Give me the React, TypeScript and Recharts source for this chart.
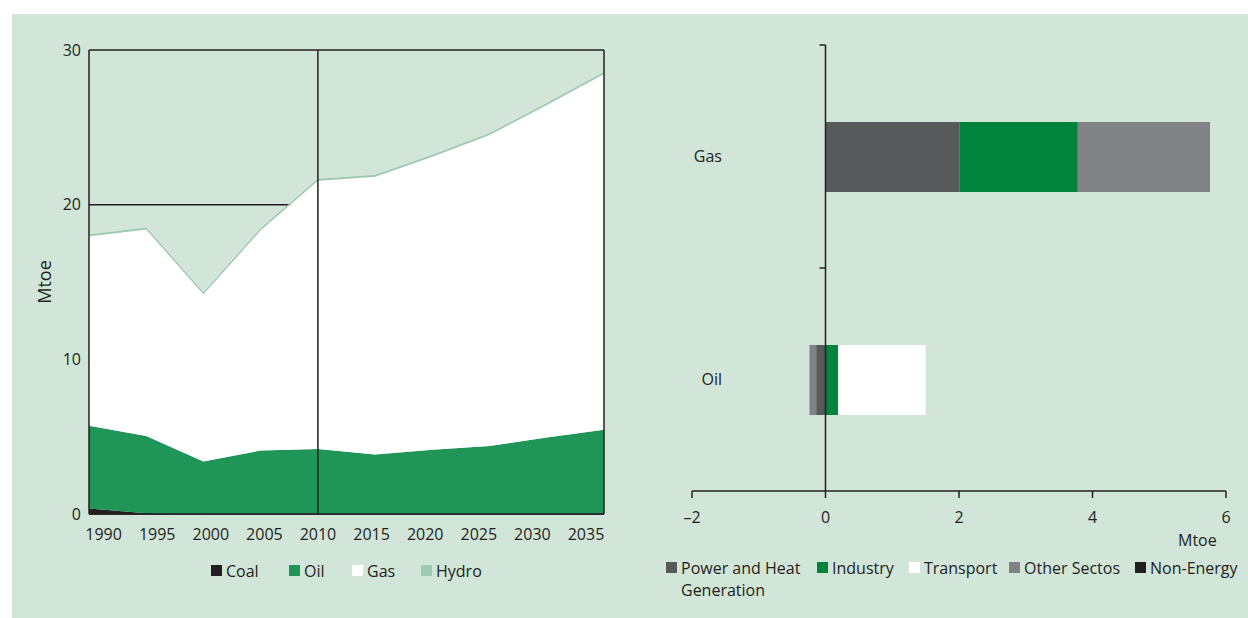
import {
  AreaChart,
  Area,
  BarChart,
  Bar,
  XAxis,
  YAxis,
  CartesianGrid,
  ReferenceLine,
} from "recharts"

// left panel: primary energy demand by fuel
const YEARS = [1990, 1995, 2000, 2005, 2010, 2015, 2020, 2025, 2030, 2035]
const COAL = [0.35, 0.05, 0, 0, 0, 0, 0, 0, 0, 0]
const OIL = [5.35, 5.0, 3.4, 4.1, 4.2, 3.85, 4.15, 4.4, 4.95, 5.45]
const GAS = [12.25, 13.35, 10.8, 14.25, 17.35, 17.95, 18.95, 20.1, 21.5, 23.0]
const HYDRO = [0.08, 0.08, 0.08, 0.08, 0.08, 0.08, 0.08, 0.08, 0.08, 0.08]
const YEAR_TICKS = [1990, 1995, 2000, 2005, 2010, 2015, 2020, 2025, 2030, 2035]
const LEFT_Y_TICKS = [0, 10, 20, 30]

// right panel: change in demand by sector
const FUELS = ["Gas", "Oil"]
const POWER = [2.01, -0.14]
const INDUSTRY = [1.77, 0.19]
const TRANSPORT = [0, 1.31]
const OTHER = [1.98, -0.1]
const NON_ENERGY = [0, 0]
const RIGHT_X_TICKS = [-2, 0, 2, 4, 6]

const INK = "#231f20"
const PANEL = "#d1e5d8"

const areaData = YEARS.map((year, i) => ({
  year,
  Coal: COAL[i],
  Oil: OIL[i],
  Gas: GAS[i],
  Hydro: HYDRO[i],
}))

const barData = FUELS.map((fuel, i) => ({
  fuel,
  power: POWER[i],
  industry: INDUSTRY[i],
  transport: TRANSPORT[i],
  other: OTHER[i],
  nonEnergy: NON_ENERGY[i],
}))

const fuelLegend = [
  { name: "Coal", color: INK, left: 211 },
  { name: "Oil", color: "#1f9558", left: 289 },
  { name: "Gas", color: "#ffffff", left: 352 },
  { name: "Hydro", color: "#9fcbb0", left: 421 },
]

const sectorLegend = [
  { name: "Power and Heat", extra: "Generation", color: "#58595b", left: 666 },
  { name: "Industry", color: "#00843d", left: 817 },
  { name: "Transport", color: "#ffffff", left: 909 },
  { name: "Other Sectos", color: "#808285", left: 1009 },
  { name: "Non-Energy", color: INK, left: 1135 },
]

// y-axis drawn at zero, with ticks at the band edges
const ZeroAxis = (p: any) => {
  const top = Math.min(p.y1, p.y2)
  const bottom = Math.max(p.y1, p.y2)
  const mid = (top + bottom) / 2
  return (
    <g stroke={INK} strokeWidth={1.5}>
      <line x1={p.x1} y1={top} x2={p.x1} y2={bottom} />
      <line x1={p.x1 - 6} y1={top} x2={p.x1} y2={top} />
      <line x1={p.x1 - 6} y1={mid} x2={p.x1} y2={mid} />
    </g>
  )
}

function LegendItem({ name, extra, color, left, top }: any) {
  return (
    <div style={{ position: "absolute", left, top, fontSize: 16, color: INK, lineHeight: "22px" }}>
      <span
        style={{
          position: "absolute",
          left: 0,
          top: 5,
          width: 11,
          height: 11,
          background: color,
        }}
      />
      <div style={{ paddingLeft: 15, whiteSpace: "nowrap" }}>
        {name}
        {extra && <div>{extra}</div>}
      </div>
    </div>
  )
}

export default function App() {
  return (
    <div
      style={{
        position: "fixed",
        left: 0,
        top: 0,
        right: 0,
        bottom: 0,
        fontFamily: "'Open Sans', sans-serif",
        color: INK,
      }}
    >
      <div style={{ position: "absolute", left: 12, top: 14, right: 0, bottom: 0, background: PANEL }} />

      <div style={{ position: "absolute", left: 0, top: 0 }}>
        <AreaChart width={620} height={560} data={areaData} margin={{ top: 50, right: 16, bottom: 16, left: 29 }}>
          <CartesianGrid xAxisId="cat" vertical={false} stroke={INK} strokeWidth={1.5} />
          <XAxis
            xAxisId="lbl"
            dataKey="year"
            type="number"
            domain={[1988.64, 2036.68]}
            allowDataOverflow
            ticks={YEAR_TICKS}
            interval={0}
            height={30}
            axisLine={{ stroke: INK, strokeWidth: 1.5 }}
            tickLine={false}
            tick={{ fontSize: 16, fill: INK, dy: 7 }}
          />
          <XAxis xAxisId="cat" dataKey="year" hide height={0} />
          <YAxis
            domain={[0, 30]}
            ticks={LEFT_Y_TICKS}
            width={60}
            axisLine={{ stroke: INK, strokeWidth: 1.5 }}
            tickLine={false}
            tick={{ fontSize: 16, fill: INK }}
          />
          <Area xAxisId="cat" type="linear" dataKey="Coal" stackId="1" fill={INK} stroke="none" fillOpacity={1} isAnimationActive={false} />
          <Area xAxisId="cat" type="linear" dataKey="Oil" stackId="1" fill="#1f9558" stroke="none" fillOpacity={1} isAnimationActive={false} />
          <Area xAxisId="cat" type="linear" dataKey="Gas" stackId="1" fill="#ffffff" stroke="none" fillOpacity={1} isAnimationActive={false} />
          <Area xAxisId="cat" type="linear" dataKey="Hydro" stackId="1" fill="#9fcbb0" stroke="#9cc6ad" strokeWidth={1} fillOpacity={1} isAnimationActive={false} />
          <ReferenceLine xAxisId="cat" x={2010} stroke={INK} strokeWidth={1.5} />
          <ReferenceLine xAxisId="cat" x={2035} stroke={INK} strokeWidth={1.5} />
        </AreaChart>
      </div>

      <div
        style={{
          position: "absolute",
          left: 44,
          top: 282,
          fontSize: 18,
          transform: "translate(-50%, -50%) rotate(-90deg)",
        }}
      >
        Mtoe
      </div>

      {fuelLegend.map((d) => (
        <LegendItem key={d.name} {...d} top={560} />
      ))}

      <div style={{ position: "absolute", left: 640, top: 0 }}>
        <BarChart
          width={608}
          height={540}
          data={barData}
          layout="vertical"
          stackOffset="sign"
          barSize={70}
          margin={{ top: 45, right: 22, bottom: 19, left: 0 }}
        >
          <XAxis
            type="number"
            domain={[-2, 6]}
            ticks={RIGHT_X_TICKS}
            tickFormatter={(v) => (v < 0 ? `–${-v}` : `${v}`)}
            height={30}
            tickSize={7}
            axisLine={{ stroke: INK, strokeWidth: 1.5 }}
            tickLine={{ stroke: INK, strokeWidth: 1.5 }}
            tick={{ fontSize: 16, fill: INK, dy: 12 }}
          />
          <YAxis
            type="category"
            dataKey="fuel"
            width={52}
            axisLine={false}
            tickLine={false}
            tick={{ fontSize: 16, fill: INK, dx: 38 }}
          />
          <ReferenceLine x={0} shape={ZeroAxis} />
          <Bar dataKey="power" stackId="s" fill="#58595b" isAnimationActive={false} />
          <Bar dataKey="industry" stackId="s" fill="#00843d" isAnimationActive={false} />
          <Bar dataKey="transport" stackId="s" fill="#ffffff" isAnimationActive={false} />
          <Bar dataKey="other" stackId="s" fill="#808285" isAnimationActive={false} />
          <Bar dataKey="nonEnergy" stackId="s" fill={INK} isAnimationActive={false} />
        </BarChart>
      </div>

      <div style={{ position: "absolute", left: 1178, top: 529, fontSize: 16 }}>Mtoe</div>

      {sectorLegend.map((d) => (
        <LegendItem key={d.name} {...d} top={557} />
      ))}
    </div>
  )
}
